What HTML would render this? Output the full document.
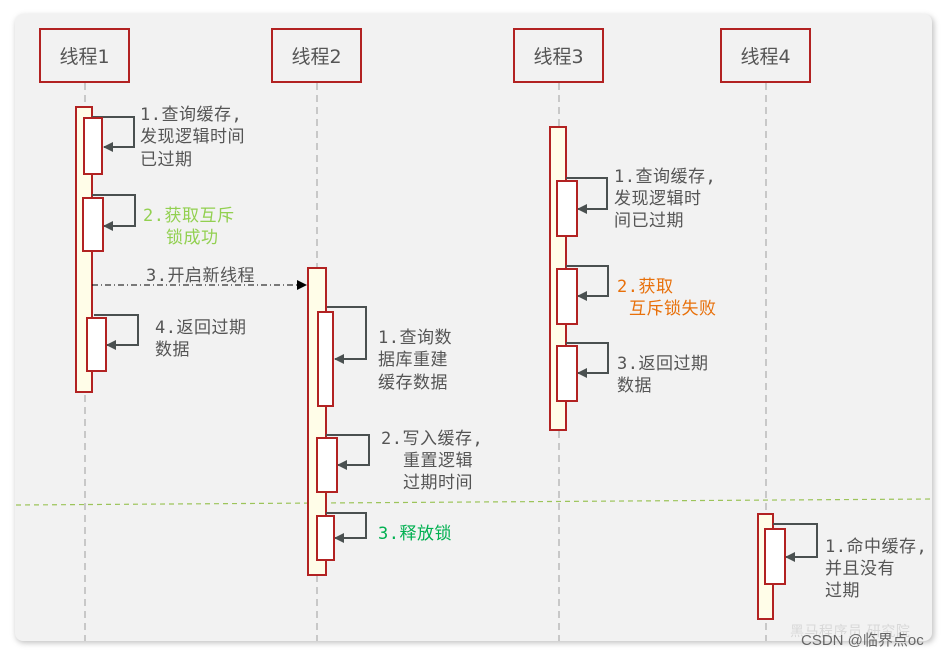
<!DOCTYPE html>
<html><head><meta charset="utf-8"><style>
html,body{margin:0;padding:0;background:#fff;width:947px;height:658px;overflow:hidden}
svg{display:block}
text{font-family:"DejaVu Sans Mono","Noto Sans CJK SC",monospace;font-size:17px;letter-spacing:0.5px;fill:#555}
text.h{font-family:"DejaVu Sans","Noto Sans CJK SC",sans-serif;font-size:19px;letter-spacing:0}
</style></head><body>
<svg width="947" height="658" viewBox="0 0 947 658" xmlns="http://www.w3.org/2000/svg">
<defs>
<filter id="sh" x="-5%" y="-5%" width="110%" height="110%"><feGaussianBlur stdDeviation="3"/></filter>
<marker id="ah" markerWidth="10" markerHeight="10" refX="9" refY="5" orient="auto" markerUnits="userSpaceOnUse"><path d="M0,0 L10,5 L0,10 z" fill="#4a5050"/></marker>
<marker id="bh" markerWidth="10" markerHeight="10" refX="9" refY="5" orient="auto" markerUnits="userSpaceOnUse"><path d="M0,0 L10,5 L0,10 z" fill="#000"/></marker>
</defs>
<rect x="16" y="16" width="918" height="627" rx="8" fill="#999" filter="url(#sh)" opacity="0.6"/>
<rect x="15" y="14" width="917" height="627" rx="8" fill="#f2f2f2"/>

<g stroke="#c8c8c8" stroke-width="2" stroke-dasharray="7,5">
<line x1="85" y1="83" x2="85" y2="641"/>
<line x1="317" y1="83" x2="317" y2="641"/>
<line x1="559" y1="83" x2="559" y2="641"/>
<line x1="766" y1="83" x2="766" y2="641"/>
</g>
<line x1="16" y1="505" x2="932" y2="499" stroke="#9cc45a" stroke-width="1.2" stroke-dasharray="5,4"/>

<g fill="#f2f2f2" stroke="#b22222" stroke-width="2">
<rect x="40" y="29" width="89" height="53"/>
<rect x="272" y="29" width="89" height="53"/>
<rect x="514" y="29" width="89" height="53"/>
<rect x="721" y="29" width="89" height="53"/>
</g>
<text class="h" x="84.5" y="63" text-anchor="middle">线程1</text>
<text class="h" x="316.5" y="63" text-anchor="middle">线程2</text>
<text class="h" x="558.5" y="63" text-anchor="middle">线程3</text>
<text class="h" x="765.5" y="63" text-anchor="middle">线程4</text>

<g fill="#fffde8" stroke="#b22222" stroke-width="2">
<rect x="76" y="107" width="16" height="285"/>
<rect x="308" y="268" width="18" height="307"/>
<rect x="550" y="127" width="16" height="303"/>
<rect x="758" y="514" width="15" height="105"/>
</g>

<g fill="none" stroke="#4a5050" stroke-width="2" marker-end="url(#ah)">
<path d="M92,117 H134 V147 H104"/>
<path d="M92,195 H135 V226 H104"/>
<path d="M94,315 H138 V345 H107"/>
<path d="M327,307 H366 V359 H335"/>
<path d="M326,435 H369 V465 H338"/>
<path d="M326,513 H366 V538 H335"/>
<path d="M566,178 H607 V209 H578"/>
<path d="M566,266 H608 V296 H578"/>
<path d="M566,343 H608 V373 H578"/>
<path d="M773,524 H817 V557 H786"/>
</g>

<g fill="#fff" stroke="#b22222" stroke-width="2">
<rect x="84" y="118" width="18" height="56"/>
<rect x="83" y="198" width="20" height="53"/>
<rect x="87" y="318" width="19" height="53"/>
<rect x="318" y="312" width="15" height="94"/>
<rect x="317" y="438" width="20" height="54"/>
<rect x="317" y="516" width="17" height="44"/>
<rect x="557" y="181" width="20" height="55"/>
<rect x="557" y="269" width="20" height="55"/>
<rect x="557" y="346" width="20" height="55"/>
<rect x="765" y="529" width="20" height="55"/>
</g>

<line x1="92" y1="285" x2="306" y2="285" stroke="#000" stroke-width="1" stroke-dasharray="6,3,1,3" marker-end="url(#bh)"/>
<text x="146" y="281">3.开启新线程</text>

<text x="140" y="120">1.查询缓存,</text>
<text x="140" y="142">发现逻辑时间</text>
<text x="140" y="165">已过期</text>
<text x="143" y="221" style="fill:#92d050">2.获取互斥</text>
<text x="166" y="243" style="fill:#92d050">锁成功</text>
<text x="155" y="333">4.返回过期</text>
<text x="155" y="355">数据</text>

<text x="378" y="343">1.查询数</text>
<text x="378" y="365">据库重建</text>
<text x="378" y="388">缓存数据</text>
<text x="381" y="444">2.写入缓存,</text>
<text x="403" y="466">重置逻辑</text>
<text x="403" y="488">过期时间</text>
<text x="378" y="539" style="fill:#00b050">3.释放锁</text>

<text x="614" y="182">1.查询缓存,</text>
<text x="614" y="204">发现逻辑时</text>
<text x="614" y="226">间已过期</text>
<text x="617" y="292" style="fill:#e8700a">2.获取</text>
<text x="629" y="314" style="fill:#e8700a">互斥锁失败</text>
<text x="617" y="369">3.返回过期</text>
<text x="617" y="391">数据</text>

<text x="825" y="552">1.命中缓存,</text>
<text x="825" y="574">并且没有</text>
<text x="825" y="596">过期</text>

<text x="790" y="636" style="fill:#d8d8d8;font-size:14px;font-family:'Liberation Sans','Noto Sans CJK SC',sans-serif">黑马程序员 研究院</text>
<text x="801" y="645" style="fill:#666;font-size:15px;font-family:'Liberation Sans','Noto Sans CJK SC',sans-serif;letter-spacing:0">CSDN @临界点oc</text>
</svg>
</body></html>
